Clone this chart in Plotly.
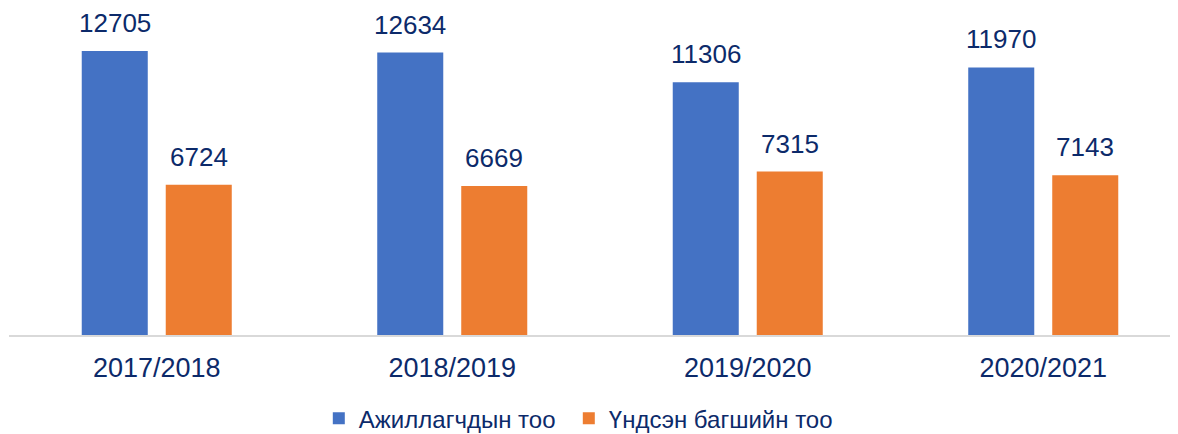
import plotly.graph_objects as go

categories = ["2017/2018", "2018/2019", "2019/2020", "2020/2021"]
series_names = ["Ажиллагчдын тоо", "Үндсэн багшийн тоо"]
workers = [12705, 12634, 11306, 11970]
teachers = [6724, 6669, 7315, 7143]
colors = ["#4472C4", "#ED7D31"]
text_color = "#0C2A6A"
font_family = "Liberation Sans, Arial, sans-serif"

fig = go.Figure()
for i, (name, vals, col) in enumerate(zip(series_names, [workers, teachers], colors)):
    fig.add_trace(go.Bar(x=categories, y=vals, name=name, marker=dict(color=col, line=dict(width=0)),
                         legendwidth=205 if i == 0 else None))

annotations = []
for vals, shift in zip([workers, teachers], [-42, 42]):
    for c, v in zip(categories, vals):
        annotations.append(dict(x=c, y=v, text=str(v), showarrow=False, xshift=shift,
                                yanchor="bottom", yshift=11,
                                font=dict(size=26, color=text_color, family=font_family)))

fig.update_layout(
    width=1170, height=426,
    margin=dict(l=1, r=0, t=0, b=99, autoexpand=False),
    paper_bgcolor="white", plot_bgcolor="white",
    barmode="group", bargap=0.4315, bargroupgap=0.214,
    font=dict(family=font_family, color=text_color, size=24),
    annotations=annotations,
    showlegend=True,
    legend=dict(orientation="h", x=0.487, xanchor="center", yref="container", y=0.036, yanchor="middle",
                font=dict(size=24, color=text_color), itemwidth=30,
                traceorder="normal"),
    xaxis=dict(range=[-0.5, 3.456], showgrid=False, showline=True, linecolor="#D9D9D9",
               linewidth=2, ticks="", tickfont=dict(size=27, color=text_color), ticklabelstandoff=8,
               automargin=False),
    yaxis=dict(range=[0, 14630], visible=False, showgrid=False, automargin=False),
)
fig.write_html("out.html")
